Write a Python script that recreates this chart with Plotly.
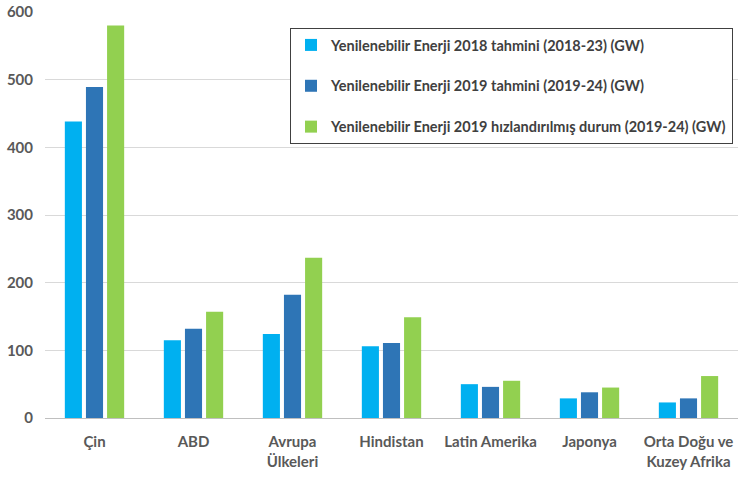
import plotly.graph_objects as go

categories = ["Çin", "ABD", "Avrupa<br>Ülkeleri", "Hindistan", "Latin Amerika", "Japonya", "Orta Doğu ve<br>Kuzey Afrika"]
series_names = [
    "Yenilenebilir Enerji 2018 tahmini (2018-23) (GW)",
    "Yenilenebilir Enerji 2019 tahmini (2019-24) (GW)",
    "Yenilenebilir Enerji 2019 hızlandırılmış durum (2019-24) (GW)",
]
values_2018 = [438, 115, 124, 106, 50, 29, 23]
values_2019 = [489, 132, 182, 111, 46, 38, 29]
values_2019_acc = [580, 157, 237, 149, 55, 45, 62]
colors = ["#00B0F0", "#2E75B6", "#92D050"]

fig = go.Figure()
for i, (name, vals) in enumerate(zip(series_names, [values_2018, values_2019, values_2019_acc])):
    fig.add_trace(go.Bar(
        x=categories, y=vals, name=name, marker_color=colors[i],
        marker_line_width=0, legendgroup=f"g{i}",
    ))

W, H = 741, 486
L, R, T, B = 45, 3, 12, 68
plot_w = W - L - R
plot_h = H - T - B
font_family = "Lato, 'Open Sans', sans-serif"
fig.update_layout(
    width=W, height=H,
    margin=dict(l=L, r=R, t=T, b=B, autoexpand=False),
    paper_bgcolor="white", plot_bgcolor="white",
    barmode="group", bargap=0.36, bargroupgap=0.19,
    font=dict(family=font_family, size=15, color="#595959"),
    legend=dict(
        x=(290 - L) / plot_w, y=(H - B - 28) / plot_h, xanchor="left", yanchor="top",
        bordercolor="#404040", borderwidth=1, bgcolor="white",
        font=dict(family=font_family, size=14.5, color="#404040", weight="bold"),
        tracegroupgap=19, itemwidth=30,
    ),
)
fig.update_yaxes(
    range=[0, 600], dtick=100, showgrid=True, gridcolor="#D9D9D9", gridwidth=1,
    zeroline=True, zerolinecolor="#BFBFBF", zerolinewidth=1, automargin=False,
    ticklabeloverflow="allow",
    tickfont=dict(family=font_family, size=15, color="#595959", weight="bold"),
    ticks="outside", ticklen=8, tickcolor="rgba(0,0,0,0)",
)
fig.update_xaxes(
    showline=False, tickangle=0, automargin=False,
    tickfont=dict(family=font_family, size=15, color="#595959", weight="bold"),
    ticks="outside", ticklen=10, tickcolor="rgba(0,0,0,0)",
)
fig.write_html("out.html", config={"displayModeBar": False},
               post_script="document.body.style.margin='0';")
